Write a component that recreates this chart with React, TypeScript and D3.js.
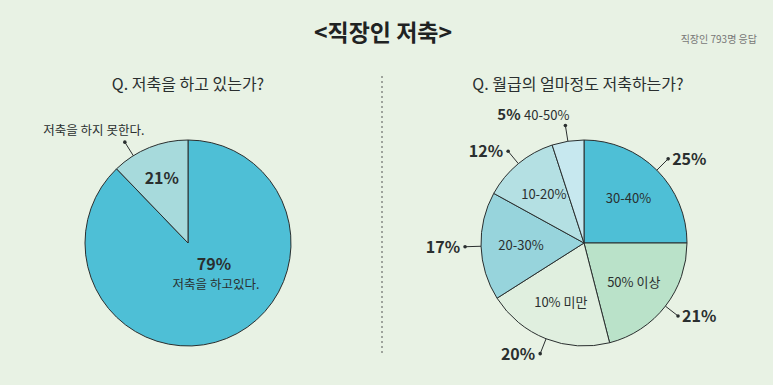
import React from "react";
import * as d3 from "d3";

// left pie: 저축 여부
const savingCats = ["저축을 하고있다.", "저축을 하지 못한다."];
const savingPct = [79, 21];
// the original draws the small slice narrower than its label says
const savingDrawn = [87.8, 12.2];
const savingColors = ["#4ebfd6", "#a7dadc"];

// right pie: 월급 중 저축 비율 (clockwise from 12 o'clock)
const rateCats = ["30-40%", "50% 이상", "10% 미만", "20-30%", "10-20%", "40-50%"];
const ratePct = [25, 21, 20, 17, 12, 5];
const rateColors = ["#4ebfd6", "#bae2c9", "#e0efdf", "#97d4dc", "#b4e0e3", "#c7e8ef"];

const FONT = "'Noto Sans CJK KR', 'Noto Sans', sans-serif";
const INK = "#2a2f2f";

export default function App() {
  const W = 773, H = 385;
  const R = 103;
  const left = { x: 188, y: 243 };
  const right = { x: 584, y: 243 };

  const pie = d3.pie<number>().sort(null).value((d) => d);
  const arc = d3.arc<d3.PieArcDatum<number>>().innerRadius(0).outerRadius(R);

  const leftArcs = pie(savingDrawn);
  const rightArcs = pie(ratePct);

  const pt = (c: { x: number; y: number }, a: number, r: number) => [
    c.x + r * Math.sin(a),
    c.y - r * Math.cos(a),
  ];

  // leader for "못한다" slice
  const small = leftArcs[1];
  const la = small.startAngle + (small.endAngle - small.startAngle) * 0.27;
  const [le0x, le0y] = pt(left, la, R);
  const [ld0x, ld0y] = pt(left, la, R + 16);

  return (
    <svg width={W} height={H} style={{ position: "absolute", left: 0, top: 0, background: "#e8f2e4" }} fontFamily={FONT}>
      <rect width={W} height={H} fill="#e8f2e4" />
      <text x={383} y={41} textAnchor="middle" fontSize={23} fontWeight={700} fill="#1f2323">
        {"<직장인 저축>"}
      </text>
      <text x={757} y={43} textAnchor="end" fontSize={10} fill="#777">
        직장인 793명 응답
      </text>
      <text x={188} y={90} textAnchor="middle" fontSize={16} fill={INK}>
        Q. 저축을 하고 있는가?
      </text>
      <text x={578} y={90} textAnchor="middle" fontSize={16} fill={INK}>
        Q. 월급의 얼마정도 저축하는가?
      </text>
      <line x1={382} x2={382} y1={76} y2={356} stroke="#555" strokeWidth={1} strokeDasharray="2,3" />

      {/* left pie */}
      <g transform={`translate(${left.x},${left.y})`}>
        {leftArcs.map((a, i) => (
          <path key={i} d={arc(a) || ""} fill={savingColors[i]} stroke={INK} strokeWidth={1} />
        ))}
      </g>
      {(() => {
        const [x, y] = pt(left, (small.startAngle + small.endAngle) / 2, 70);
        return (
          <text x={x} y={y + 6} textAnchor="middle" fontSize={16} fontWeight={700} fill={INK}>
            {savingPct[1]}%
          </text>
        );
      })()}
      <text x={left.x + 26} y={left.y + 27} textAnchor="middle" fontSize={16} fontWeight={700} fill={INK}>
        {savingPct[0]}%
      </text>
      <text x={left.x + 28} y={left.y + 46} textAnchor="middle" fontSize={12.5} fill={INK}>
        {savingCats[0]}
      </text>
      <line x1={le0x} y1={le0y} x2={ld0x} y2={ld0y} stroke={INK} strokeWidth={1} />
      <circle cx={ld0x} cy={ld0y} r={1.8} fill={INK} />
      <text x={ld0x - 31} y={ld0y - 7} textAnchor="middle" fontSize={12.5} fill={INK}>
        {savingCats[1]}
      </text>

      {/* right pie */}
      <g transform={`translate(${right.x},${right.y})`}>
        {rightArcs.map((a, i) => (
          <path key={i} d={arc(a) || ""} fill={rateColors[i]} stroke={INK} strokeWidth={1} />
        ))}
        {rightArcs.map((a, i) => {
          if (i === rightArcs.length - 1) return null;
          const m = (a.startAngle + a.endAngle) / 2;
          const r = 63;
          return (
            <text key={i} x={r * Math.sin(m)} y={-r * Math.cos(m) + 5} textAnchor="middle" fontSize={13} fill={INK}>
              {rateCats[i]}
            </text>
          );
        })}
      </g>
      {rightArcs.map((a, i) => {
        const m = (a.startAngle + a.endAngle) / 2;
        const [ex, ey] = pt(right, m, R);
        const [dx, dy] = pt(right, m, R + 16);
        const top = Math.abs(Math.sin(m)) < 0.3 && Math.cos(m) > 0;
        const onRight = Math.sin(m) > 0;
        return (
          <g key={i}>
            <line x1={ex} y1={ey} x2={dx} y2={dy} stroke={INK} strokeWidth={1} />
            <circle cx={dx} cy={dy} r={1.8} fill={INK} />
            {top ? (
              <text x={dx + 4} y={dy - 5} textAnchor="end" fill={INK}>
                <tspan fontSize={15} fontWeight={700}>{ratePct[i]}% </tspan>
                <tspan fontSize={13}>{rateCats[i]}</tspan>
              </text>
            ) : (
              <text
                x={onRight ? dx + 4 : dx - 5}
                y={dy + 6}
                textAnchor={onRight ? "start" : "end"}
                fontSize={16}
                fontWeight={700}
                fill={INK}
              >
                {ratePct[i]}%
              </text>
            )}
          </g>
        );
      })}
    </svg>
  );
}
